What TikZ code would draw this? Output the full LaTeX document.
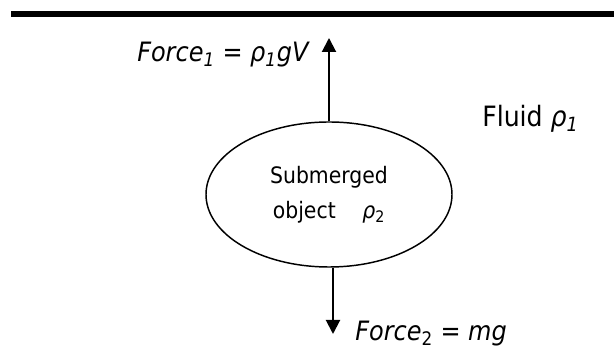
\documentclass[tikz,border=0pt]{standalone}
\usepackage{fontspec}
\setmainfont{DejaVu Sans Condensed}
\usetikzlibrary{shapes.geometric,arrows.meta}
\begin{document}
\begin{tikzpicture}[x=0.75pt,y=-0.75pt,
  lbl/.style={anchor=base west,inner sep=0pt},
  force/.style={line width=1.5pt,-{Triangle[width=10.5pt,length=10.5pt]}},
  objshape/.style={draw,ellipse,line width=1.1pt,minimum width=184.5pt,minimum height=108.75pt,inner sep=0pt,align=center}]
\useasboundingbox (0,0) rectangle (614,348);
\fill (11,11) rectangle (614,17);
\node[objshape,font=\fontsize{17}{26.25}\selectfont] (obj) at (329,194.5) {Submerged\\object\hspace{20pt}\textit{ρ}\textsubscript{2}};
\coordinate (t1) at (329,38);
\coordinate (t2) at (333,334);
\draw[force] (obj.north) -- (t1);
\draw[force] ([xshift=3pt]obj.south) -- (t2);
\node[lbl,font=\fontsize{20}{24}\selectfont] (f1) at (137,62) {\textit{Force\textsubscript{1} = ρ\textsubscript{1}gV}};
\node[lbl,font=\fontsize{21}{25}\selectfont] (fl) at (482,127) {Fluid \textit{ρ\textsubscript{1}}};
\node[lbl,font=\fontsize{20}{24}\selectfont] (f2) at (355,341) {\textit{Force}\textsubscript{2} = \textit{mg}};
\end{tikzpicture}
\end{document}
